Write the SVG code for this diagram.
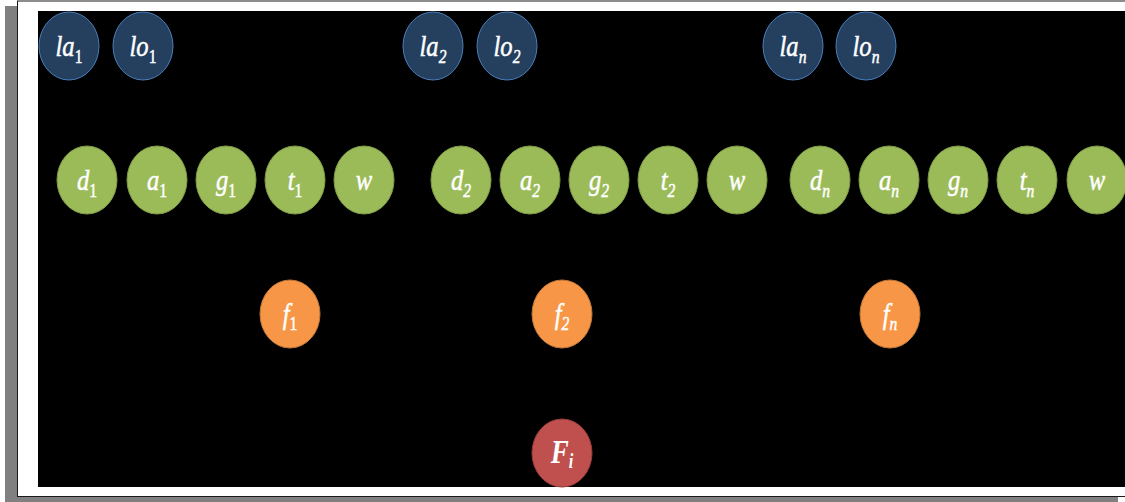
<svg xmlns="http://www.w3.org/2000/svg" width="1125" height="502" viewBox="0 0 1125 502">
<style>
.blue{fill:#253F5F;stroke:#4A7EBB;stroke-width:1}
.green{fill:#9BBB59;stroke:#7E9A46;stroke-width:1}
.orange{fill:#F79646;stroke:#C0773A;stroke-width:1}
.red{fill:#C0504D;stroke:#9A3E3B;stroke-width:1}
.t{font-size:30px;stroke:#FFFFFF;stroke-width:0.5}
.s{font-size:19px}
.up{font-style:normal}
</style>
<rect x="5" y="6" width="1113" height="500" fill="#808080"/>
<rect x="17.5" y="1" width="1120" height="495.5" fill="#FFFFFF" stroke="#1a1a1a" stroke-width="1"/>
<rect x="38" y="11" width="1100" height="476" fill="#000000"/>
<g id="connectors"></g>
<g font-family="'Liberation Serif', 'Times New Roman', 'DejaVu Serif', serif" font-style="italic" fill="#FFFFFF" text-anchor="middle">
<g id="la1"><ellipse class="blue" cx="69" cy="46" rx="30" ry="34"/><text class="t" transform="matrix(0.82 0 0 1 69 0)" x="0" y="56">la<tspan class="s up" dy="7">1</tspan></text></g>
<g id="lo1"><ellipse class="blue" cx="143" cy="46" rx="30" ry="34"/><text class="t" transform="matrix(0.82 0 0 1 143 0)" x="0" y="56">lo<tspan class="s up" dy="7">1</tspan></text></g>
<g id="la2"><ellipse class="blue" cx="433" cy="46" rx="30" ry="34"/><text class="t" transform="matrix(0.82 0 0 1 433 0)" x="0" y="56">la<tspan class="s" dy="7">2</tspan></text></g>
<g id="lo2"><ellipse class="blue" cx="507" cy="46" rx="30" ry="34"/><text class="t" transform="matrix(0.82 0 0 1 507 0)" x="0" y="56">lo<tspan class="s" dy="7">2</tspan></text></g>
<g id="lan"><ellipse class="blue" cx="793" cy="46" rx="30" ry="34"/><text class="t" transform="matrix(0.82 0 0 1 793 0)" x="0" y="56">la<tspan class="s" dy="7">n</tspan></text></g>
<g id="lon"><ellipse class="blue" cx="866" cy="46" rx="30" ry="34"/><text class="t" transform="matrix(0.82 0 0 1 866 0)" x="0" y="56">lo<tspan class="s" dy="7">n</tspan></text></g>

<g id="d1"><ellipse class="green" cx="87" cy="180" rx="30" ry="34"/><text class="t" transform="matrix(0.82 0 0 1 87 0)" x="0" y="190">d<tspan class="s up" dy="7">1</tspan></text></g>
<g id="a1"><ellipse class="green" cx="157" cy="180" rx="30" ry="34"/><text class="t" transform="matrix(0.82 0 0 1 157 0)" x="0" y="190">a<tspan class="s up" dy="7">1</tspan></text></g>
<g id="g1"><ellipse class="green" cx="226" cy="180" rx="30" ry="34"/><text class="t" transform="matrix(0.82 0 0 1 226 0)" x="0" y="190">g<tspan class="s up" dy="7">1</tspan></text></g>
<g id="t1"><ellipse class="green" cx="295" cy="180" rx="30" ry="34"/><text class="t" transform="matrix(0.82 0 0 1 295 0)" x="0" y="190">t<tspan class="s up" dy="7">1</tspan></text></g>
<g id="w1"><ellipse class="green" cx="364" cy="180" rx="30" ry="34"/><text class="t" transform="matrix(0.82 0 0 1 364 0)" x="0" y="190">w</text></g>

<g id="d2"><ellipse class="green" cx="461" cy="180" rx="30" ry="34"/><text class="t" transform="matrix(0.82 0 0 1 461 0)" x="0" y="190">d<tspan class="s" dy="7">2</tspan></text></g>
<g id="a2"><ellipse class="green" cx="530" cy="180" rx="30" ry="34"/><text class="t" transform="matrix(0.82 0 0 1 530 0)" x="0" y="190">a<tspan class="s" dy="7">2</tspan></text></g>
<g id="g2"><ellipse class="green" cx="599" cy="180" rx="30" ry="34"/><text class="t" transform="matrix(0.82 0 0 1 599 0)" x="0" y="190">g<tspan class="s" dy="7">2</tspan></text></g>
<g id="t2"><ellipse class="green" cx="668" cy="180" rx="30" ry="34"/><text class="t" transform="matrix(0.82 0 0 1 668 0)" x="0" y="190">t<tspan class="s" dy="7">2</tspan></text></g>
<g id="w2"><ellipse class="green" cx="737" cy="180" rx="30" ry="34"/><text class="t" transform="matrix(0.82 0 0 1 737 0)" x="0" y="190">w</text></g>

<g id="dn"><ellipse class="green" cx="820" cy="180" rx="30" ry="34"/><text class="t" transform="matrix(0.82 0 0 1 820 0)" x="0" y="190">d<tspan class="s" dy="7">n</tspan></text></g>
<g id="an"><ellipse class="green" cx="889" cy="180" rx="30" ry="34"/><text class="t" transform="matrix(0.82 0 0 1 889 0)" x="0" y="190">a<tspan class="s" dy="7">n</tspan></text></g>
<g id="gn"><ellipse class="green" cx="958" cy="180" rx="30" ry="34"/><text class="t" transform="matrix(0.82 0 0 1 958 0)" x="0" y="190">g<tspan class="s" dy="7">n</tspan></text></g>
<g id="tn"><ellipse class="green" cx="1027" cy="180" rx="30" ry="34"/><text class="t" transform="matrix(0.82 0 0 1 1027 0)" x="0" y="190">t<tspan class="s" dy="7">n</tspan></text></g>
<g id="wn"><ellipse class="green" cx="1097" cy="180" rx="30" ry="34"/><text class="t" transform="matrix(0.82 0 0 1 1097 0)" x="0" y="190">w</text></g>

<g id="f1"><ellipse class="orange" cx="290" cy="314" rx="30" ry="34"/><text class="t" transform="matrix(0.82 0 0 1 290 0)" x="0" y="324">f<tspan class="s up" dy="6">1</tspan></text></g>
<g id="f2"><ellipse class="orange" cx="562" cy="314" rx="30" ry="34"/><text class="t" transform="matrix(0.82 0 0 1 562 0)" x="0" y="324">f<tspan class="s" dy="6">2</tspan></text></g>
<g id="fn"><ellipse class="orange" cx="890" cy="314" rx="30" ry="34"/><text class="t" transform="matrix(0.82 0 0 1 890 0)" x="0" y="324">f<tspan class="s" dy="6">n</tspan></text></g>

<g id="Fi"><ellipse class="red" cx="562" cy="453" rx="30" ry="34"/><text transform="matrix(0.82 0 0 1 562 0)" x="0" y="463" font-size="33" font-weight="bold">F<tspan font-size="20" dy="5">i</tspan></text></g>
</g>
</svg>
